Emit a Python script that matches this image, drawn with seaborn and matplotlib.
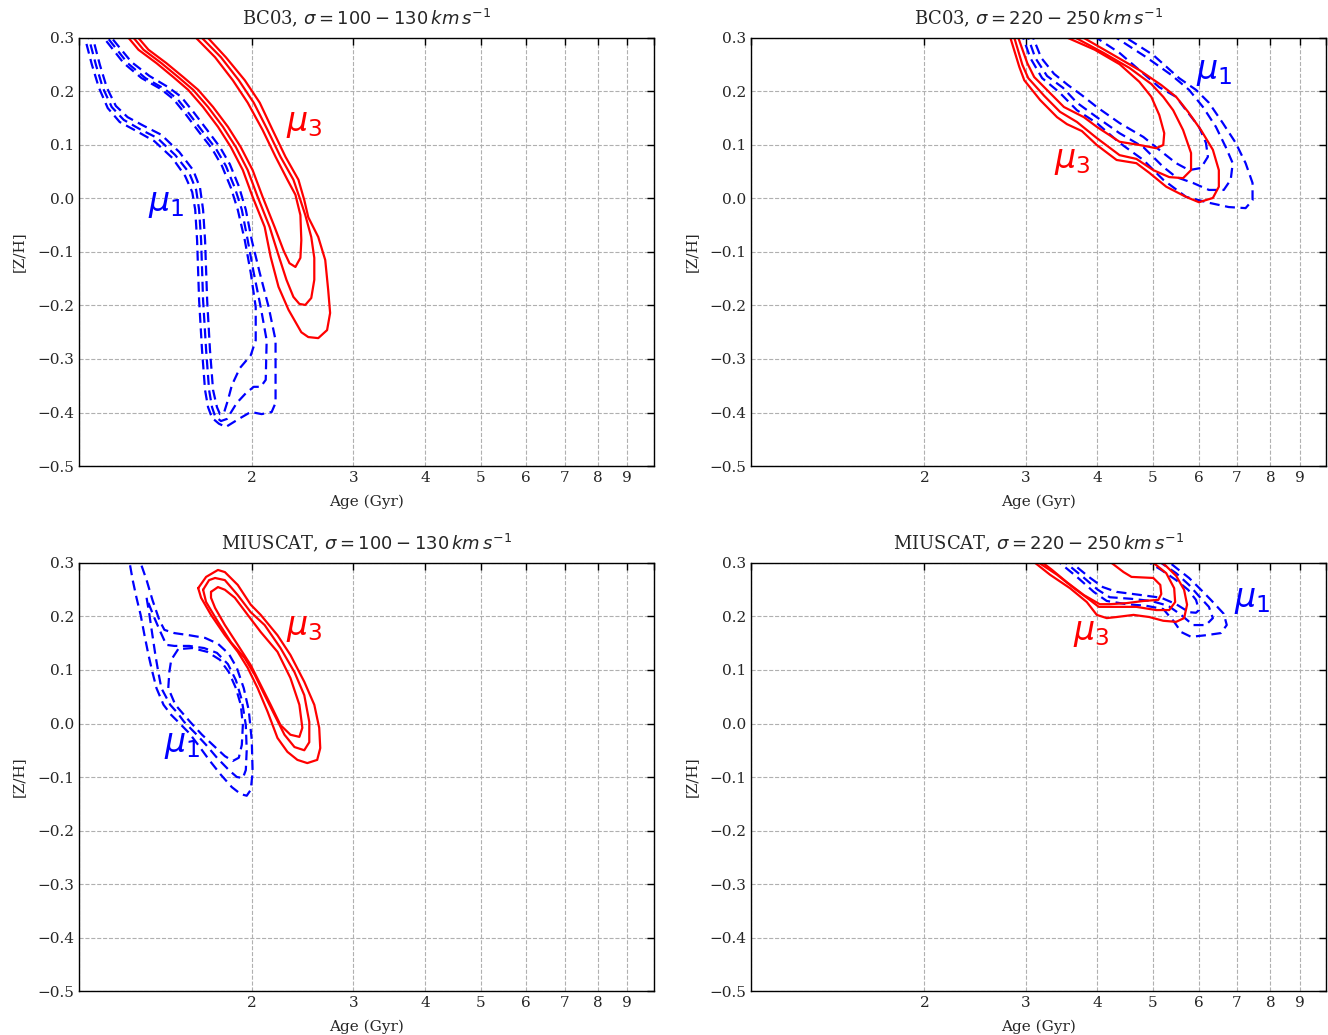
import matplotlib
matplotlib.use("Agg")
import matplotlib.pyplot as plt
import pandas as pd
import seaborn as sns
from matplotlib.ticker import NullFormatter, FuncFormatter, MultipleLocator, LogLocator

# ---------------- data (age in Gyr, [Z/H]) ----------------
panel_titles = [
    r"BC03, $\sigma = 100 - 130\,km\,s^{-1}$",
    r"BC03, $\sigma = 220 - 250\,km\,s^{-1}$",
    r"MIUSCAT, $\sigma = 100 - 130\,km\,s^{-1}$",
    r"MIUSCAT, $\sigma = 220 - 250\,km\,s^{-1}$",
]
xlabel_text = "Age (Gyr)"
ylabel_text = "[Z/H]"
mu_labels = [r"$\mu_1$", r"$\mu_3$"]

# --- BC03, sigma 100-130 ---
bc_low_mu1_outer = [(1.004, 0.315), (1.024, 0.300), (1.053, 0.250), (1.083, 0.207), (1.122, 0.169),
                    (1.177, 0.143), (1.259, 0.126), (1.353, 0.107), (1.453, 0.076), (1.530, 0.042),
                    (1.574, 0.012), (1.593, -0.021), (1.605, -0.078), (1.618, -0.190), (1.637, -0.283),
                    (1.657, -0.358), (1.677, -0.390), (1.704, -0.410), (1.752, -0.421), (1.801, -0.427),
                    (1.897, -0.412), (1.990, -0.399), (2.079, -0.403), (2.164, -0.399), (2.198, -0.382),
                    (2.198, -0.321), (2.198, -0.265), (2.138, -0.203), (2.063, -0.139), (1.998, -0.078),
                    (1.951, -0.021), (1.897, 0.023), (1.830, 0.064), (1.759, 0.096), (1.671, 0.128),
                    (1.586, 0.160), (1.506, 0.190), (1.430, 0.208), (1.326, 0.229), (1.234, 0.255),
                    (1.140, 0.300), (1.113, 0.315)]
bc_low_mu1_mid = [(1.024, 0.315), (1.040, 0.300), (1.070, 0.250), (1.100, 0.207), (1.140, 0.171),
                  (1.196, 0.147), (1.274, 0.130), (1.369, 0.113), (1.471, 0.081), (1.555, 0.048),
                  (1.599, 0.016), (1.618, -0.021), (1.631, -0.078), (1.644, -0.190), (1.664, -0.283),
                  (1.684, -0.358), (1.704, -0.390), (1.725, -0.407), (1.766, -0.416), (1.809, -0.412),
                  (1.882, -0.382), (1.951, -0.364), (2.014, -0.352), (2.071, -0.352), (2.113, -0.339),
                  (2.121, -0.265), (2.071, -0.203), (2.014, -0.139), (1.966, -0.078), (1.920, -0.021),
                  (1.867, 0.020), (1.801, 0.061), (1.731, 0.093), (1.644, 0.124), (1.561, 0.156),
                  (1.483, 0.186), (1.408, 0.205), (1.305, 0.225), (1.215, 0.253), (1.122, 0.300),
                  (1.096, 0.315)]
bc_low_mu1_inner = [(1.040, 0.315), (1.057, 0.300), (1.087, 0.250), (1.118, 0.207), (1.159, 0.173),
                    (1.215, 0.152), (1.295, 0.136), (1.391, 0.119), (1.494, 0.087), (1.580, 0.053),
                    (1.624, 0.020), (1.644, -0.021), (1.657, -0.078), (1.671, -0.190), (1.690, -0.283),
                    (1.711, -0.358), (1.738, -0.390), (1.759, -0.403), (1.787, -0.401), (1.816, -0.377),
                    (1.845, -0.349), (1.905, -0.317), (1.990, -0.293), (2.030, -0.265), (2.030, -0.203),
                    (1.990, -0.139), (1.943, -0.078), (1.889, -0.021), (1.838, 0.020), (1.773, 0.061),
                    (1.704, 0.093), (1.618, 0.124), (1.537, 0.156), (1.459, 0.186), (1.386, 0.205),
                    (1.285, 0.225), (1.196, 0.253), (1.105, 0.300), (1.079, 0.315)]
bc_low_mu3_outer = [(1.186, 0.315), (1.220, 0.300), (1.269, 0.278), (1.364, 0.253), (1.459, 0.227),
                    (1.549, 0.203), (1.644, 0.171), (1.745, 0.134), (1.838, 0.096), (1.928, 0.053),
                    (2.005, 0.003), (2.104, -0.053), (2.155, -0.109), (2.224, -0.165), (2.315, -0.208),
                    (2.437, -0.250), (2.506, -0.259), (2.608, -0.261), (2.702, -0.246), (2.735, -0.214),
                    (2.714, -0.171), (2.682, -0.115), (2.608, -0.072), (2.506, -0.035), (2.466, -0.003),
                    (2.409, 0.035), (2.287, 0.078), (2.172, 0.128), (2.063, 0.179), (1.943, 0.221),
                    (1.801, 0.264), (1.677, 0.300), (1.624, 0.315)]
bc_low_mu3_mid = [(1.210, 0.315), (1.245, 0.300), (1.295, 0.278), (1.391, 0.253), (1.488, 0.227),
                  (1.580, 0.203), (1.677, 0.171), (1.780, 0.134), (1.875, 0.096), (1.966, 0.053),
                  (2.046, 0.003), (2.146, -0.053), (2.224, -0.106), (2.296, -0.152), (2.361, -0.184),
                  (2.418, -0.197), (2.476, -0.199), (2.536, -0.186), (2.567, -0.152), (2.567, -0.111),
                  (2.536, -0.072), (2.476, -0.031), (2.428, -0.003), (2.361, 0.035), (2.242, 0.078),
                  (2.129, 0.128), (2.014, 0.179), (1.897, 0.221), (1.766, 0.264), (1.637, 0.300),
                  (1.586, 0.315)]
bc_low_mu3_inner = [(1.234, 0.315), (1.269, 0.300), (1.321, 0.278), (1.419, 0.253), (1.518, 0.227),
                    (1.612, 0.203), (1.711, 0.171), (1.816, 0.134), (1.912, 0.096), (2.005, 0.053),
                    (2.087, 0.003), (2.189, -0.053), (2.269, -0.097), (2.324, -0.121), (2.380, -0.128),
                    (2.428, -0.111), (2.437, -0.078), (2.428, -0.031), (2.380, 0.007), (2.305, 0.035),
                    (2.198, 0.078), (2.087, 0.128), (1.966, 0.179), (1.852, 0.221), (1.725, 0.264),
                    (1.599, 0.300), (1.549, 0.315)]

# --- BC03, sigma 220-250 ---
bc_high_mu1_outer = [(2.950, 0.315), (2.973, 0.300), (3.057, 0.263), (3.206, 0.225), (3.431, 0.199),
                     (3.686, 0.165), (3.991, 0.141), (4.373, 0.104), (4.810, 0.072), (5.209, 0.035),
                     (5.708, 0.003), (6.255, -0.008), (6.772, -0.016), (7.246, -0.018), (7.450, -0.003),
                     (7.450, 0.029), (7.246, 0.066), (6.963, 0.104), (6.613, 0.141), (6.255, 0.179),
                     (5.940, 0.203), (5.551, 0.225), (5.006, 0.268), (4.496, 0.300), (4.355, 0.315)]
bc_high_mu1_mid = [(3.009, 0.315), (3.033, 0.300), (3.119, 0.263), (3.270, 0.229), (3.485, 0.207),
                   (3.686, 0.179), (3.991, 0.152), (4.373, 0.122), (4.810, 0.096), (5.209, 0.059),
                   (5.485, 0.040), (5.870, 0.029), (6.255, 0.016), (6.639, 0.016), (6.826, 0.035),
                   (6.881, 0.066), (6.692, 0.096), (6.432, 0.134), (6.108, 0.171), (5.777, 0.203),
                   (5.378, 0.231), (4.868, 0.264), (4.321, 0.300), (4.186, 0.315)]
bc_high_mu1_inner = [(3.069, 0.315), (3.094, 0.300), (3.194, 0.263), (3.363, 0.233), (3.556, 0.212),
                     (3.760, 0.193), (3.991, 0.171), (4.373, 0.141), (4.810, 0.115), (5.209, 0.085),
                     (5.485, 0.066), (5.777, 0.053), (6.059, 0.057), (6.230, 0.078), (6.181, 0.104),
                     (6.011, 0.134), (5.708, 0.165), (5.485, 0.190), (5.127, 0.208), (4.734, 0.240),
                     (4.373, 0.272), (3.991, 0.300), (3.866, 0.315)]
bc_high_mu3_outer = [(2.802, 0.315), (2.824, 0.300), (2.926, 0.246), (2.985, 0.221), (3.181, 0.184),
                     (3.404, 0.152), (3.541, 0.139), (3.760, 0.126), (3.991, 0.100), (4.321, 0.072),
                     (4.678, 0.066), (4.926, 0.048), (5.272, 0.022), (5.708, 0.003), (6.011, -0.007),
                     (6.355, 0.001), (6.509, 0.022), (6.509, 0.053), (6.355, 0.091), (6.059, 0.128),
                     (5.754, 0.162), (5.485, 0.190), (5.168, 0.212), (4.734, 0.240), (4.269, 0.268),
                     (3.790, 0.300), (3.570, 0.315)]
bc_high_mu3_mid = [(2.835, 0.315), (2.869, 0.300), (2.962, 0.250), (3.033, 0.225), (3.232, 0.192),
                   (3.444, 0.162), (3.686, 0.143), (3.991, 0.113), (4.373, 0.081), (4.678, 0.074),
                   (5.006, 0.053), (5.335, 0.040), (5.640, 0.038), (5.823, 0.053), (5.823, 0.085),
                   (5.640, 0.128), (5.420, 0.165), (5.209, 0.190), (4.966, 0.214), (4.550, 0.244),
                   (4.104, 0.272), (3.671, 0.300), (3.458, 0.315)]
bc_high_mu3_inner = [(2.880, 0.315), (2.915, 0.300), (3.021, 0.253), (3.106, 0.227), (3.310, 0.197),
                     (3.499, 0.171), (3.790, 0.152), (3.991, 0.134), (4.373, 0.106), (4.734, 0.100),
                     (5.066, 0.094), (5.209, 0.100), (5.230, 0.122), (5.127, 0.156), (4.966, 0.190),
                     (4.734, 0.218), (4.373, 0.251), (3.959, 0.278), (3.556, 0.300), (3.350, 0.315)]

# --- MIUSCAT, sigma 100-130 ---
mi_low_mu1_outer = [(1.210, 0.324), (1.225, 0.300), (1.240, 0.268), (1.259, 0.235), (1.280, 0.203),
                    (1.300, 0.165), (1.321, 0.128), (1.342, 0.096), (1.364, 0.066), (1.403, 0.035),
                    (1.447, 0.016), (1.488, 0.003), (1.555, -0.018), (1.612, -0.040), (1.684, -0.068),
                    (1.766, -0.096), (1.845, -0.119), (1.912, -0.132), (1.958, -0.135), (1.990, -0.124),
                    (2.005, -0.091), (1.998, -0.031), (1.974, 0.025), (1.935, 0.066), (1.882, 0.104),
                    (1.823, 0.130), (1.745, 0.149), (1.657, 0.160), (1.555, 0.165), (1.465, 0.169),
                    (1.408, 0.175), (1.380, 0.193), (1.342, 0.231), (1.311, 0.268), (1.280, 0.300),
                    (1.269, 0.324)]
mi_low_mu1_mid = [(1.311, 0.235), (1.326, 0.203), (1.342, 0.165), (1.358, 0.128), (1.374, 0.096),
                  (1.391, 0.066), (1.441, 0.035), (1.483, 0.020), (1.524, 0.003), (1.593, -0.018),
                  (1.664, -0.040), (1.738, -0.064), (1.823, -0.087), (1.882, -0.100), (1.928, -0.102),
                  (1.951, -0.087), (1.958, -0.050), (1.951, -0.003), (1.920, 0.044), (1.875, 0.081),
                  (1.816, 0.111), (1.738, 0.132), (1.651, 0.141), (1.555, 0.145), (1.465, 0.145),
                  (1.419, 0.147), (1.386, 0.171), (1.353, 0.197), (1.321, 0.225), (1.311, 0.235)]
mi_low_mu1_inner = [(1.488, 0.139), (1.447, 0.119), (1.436, 0.096), (1.430, 0.066), (1.471, 0.035),
                    (1.518, 0.018), (1.561, 0.003), (1.637, -0.021), (1.725, -0.044), (1.794, -0.061),
                    (1.852, -0.070), (1.897, -0.064), (1.920, -0.040), (1.928, -0.003), (1.912, 0.035),
                    (1.875, 0.066), (1.823, 0.096), (1.759, 0.119), (1.671, 0.134), (1.574, 0.141),
                    (1.488, 0.139)]
mi_low_mu3_outer = [(1.612, 0.253), (1.664, 0.274), (1.745, 0.287), (1.794, 0.283), (1.889, 0.259),
                    (1.990, 0.222), (2.071, 0.203), (2.215, 0.165), (2.333, 0.128), (2.466, 0.078),
                    (2.567, 0.035), (2.618, -0.008), (2.629, -0.046), (2.597, -0.068), (2.496, -0.074),
                    (2.399, -0.068), (2.305, -0.053), (2.215, -0.027), (2.129, 0.022), (2.046, 0.066),
                    (1.966, 0.104), (1.889, 0.134), (1.794, 0.165), (1.697, 0.203), (1.631, 0.235),
                    (1.612, 0.253)]
mi_low_mu3_mid = [(1.644, 0.250), (1.684, 0.268), (1.725, 0.272), (1.794, 0.268), (1.889, 0.240),
                  (1.990, 0.208), (2.104, 0.184), (2.242, 0.141), (2.371, 0.096), (2.466, 0.053),
                  (2.516, 0.003), (2.516, -0.035), (2.466, -0.050), (2.371, -0.044), (2.278, -0.021),
                  (2.189, 0.016), (2.104, 0.053), (2.022, 0.091), (1.943, 0.122), (1.838, 0.152),
                  (1.745, 0.190), (1.664, 0.227), (1.644, 0.250)]
mi_low_mu3_inner = [(1.697, 0.246), (1.745, 0.255), (1.794, 0.250), (1.867, 0.235), (1.966, 0.203),
                    (2.071, 0.171), (2.215, 0.134), (2.333, 0.085), (2.418, 0.035), (2.447, -0.008),
                    (2.418, -0.025), (2.333, -0.021), (2.242, -0.003), (2.155, 0.035), (2.071, 0.072),
                    (1.990, 0.109), (1.889, 0.147), (1.794, 0.184), (1.725, 0.216), (1.697, 0.235),
                    (1.697, 0.246)]

# --- MIUSCAT, sigma 220-250 ---
mi_high_mu1_outer = [(3.404, 0.315), (3.444, 0.300), (3.686, 0.274), (3.943, 0.246), (4.154, 0.229),
                     (4.496, 0.223), (4.868, 0.220), (5.209, 0.214), (5.442, 0.190), (5.596, 0.171),
                     (5.823, 0.162), (6.181, 0.165), (6.561, 0.169), (6.719, 0.184), (6.639, 0.205),
                     (6.305, 0.231), (6.059, 0.250), (5.777, 0.272), (5.485, 0.291), (5.272, 0.306),
                     (5.127, 0.315)]
mi_high_mu1_mid = [(3.485, 0.315), (3.527, 0.300), (3.775, 0.274), (4.007, 0.250), (4.203, 0.236),
                   (4.587, 0.233), (4.966, 0.229), (5.314, 0.220), (5.596, 0.203), (5.870, 0.184),
                   (6.181, 0.184), (6.355, 0.197), (6.255, 0.218), (6.011, 0.238), (5.777, 0.259),
                   (5.485, 0.281), (5.168, 0.300), (5.006, 0.311)]
mi_high_mu1_inner = [(3.570, 0.315), (3.613, 0.300), (3.866, 0.274), (4.088, 0.255), (4.321, 0.246),
                     (4.772, 0.240), (5.168, 0.235), (5.485, 0.223), (5.777, 0.208), (5.940, 0.207),
                     (6.011, 0.212), (5.940, 0.231), (5.754, 0.250), (5.485, 0.268), (5.168, 0.287),
                     (4.906, 0.302), (4.772, 0.311)]
mi_high_mu3_outer = [(3.082, 0.315), (3.119, 0.300), (3.310, 0.278), (3.584, 0.253), (3.835, 0.227),
                     (3.991, 0.203), (4.154, 0.197), (4.321, 0.199), (4.624, 0.203), (4.926, 0.199),
                     (5.209, 0.192), (5.485, 0.190), (5.663, 0.197), (5.731, 0.222), (5.663, 0.250),
                     (5.485, 0.276), (5.272, 0.294), (5.107, 0.306), (5.006, 0.315)]
mi_high_mu3_mid = [(3.131, 0.315), (3.169, 0.300), (3.404, 0.278), (3.642, 0.253), (3.881, 0.231),
                   (4.023, 0.218), (4.321, 0.218), (4.678, 0.218), (5.066, 0.212), (5.335, 0.212),
                   (5.464, 0.227), (5.442, 0.253), (5.272, 0.281), (5.066, 0.296), (4.868, 0.309),
                   (4.772, 0.315)]
mi_high_mu3_inner = [(3.181, 0.315), (3.219, 0.300), (3.337, 0.287), (3.541, 0.264), (3.790, 0.240),
                     (4.039, 0.223), (4.203, 0.223), (4.496, 0.225), (4.810, 0.229), (5.107, 0.231),
                     (5.168, 0.242), (5.148, 0.259), (5.006, 0.272), (4.587, 0.274), (4.443, 0.283),
                     (4.236, 0.300), (4.154, 0.315)]

# label anchor points (age, [Z/H]) for mu_1 and mu_3 in each panel
label_mu1 = [(1.419, -0.010), (6.38, 0.236), (1.512, -0.040), (7.45, 0.231)]
label_mu3 = [(2.466, 0.139), (3.613, 0.070), (2.466, 0.178), (3.898, 0.169)]

panel_mu1 = [
    [bc_low_mu1_outer, bc_low_mu1_mid, bc_low_mu1_inner],
    [bc_high_mu1_outer, bc_high_mu1_mid, bc_high_mu1_inner],
    [mi_low_mu1_outer, mi_low_mu1_mid, mi_low_mu1_inner],
    [mi_high_mu1_outer, mi_high_mu1_mid, mi_high_mu1_inner],
]
panel_mu3 = [
    [bc_low_mu3_outer, bc_low_mu3_mid, bc_low_mu3_inner],
    [bc_high_mu3_outer, bc_high_mu3_mid, bc_high_mu3_inner],
    [mi_low_mu3_outer, mi_low_mu3_mid, mi_low_mu3_inner],
    [mi_high_mu3_outer, mi_high_mu3_mid, mi_high_mu3_inner],
]

# ---------------- plotting ----------------
sns.set_style("white")
plt.rcParams["font.family"] = ["DejaVu Serif"]
plt.rcParams["mathtext.fontset"] = "dejavusans"

fig, axes = plt.subplots(2, 2, figsize=(13.28, 10.35), dpi=100)
fig.subplots_adjust(left=0.0595, right=0.9985, bottom=0.0425, top=0.9633,
                    wspace=0.170, hspace=0.2266)

BLUE = "#0000ff"
RED = "#ff0000"


def ytick_fmt(v, pos):
    s = f"{v:.1f}"
    if s == "-0.0":
        s = "0.0"
    return s.replace("-", "\u2212")


for i, ax in enumerate(axes.flat):
    for contour in panel_mu1[i]:
        df = pd.DataFrame(contour, columns=["age", "zh"])
        sns.lineplot(data=df, x="age", y="zh", sort=False, estimator=None, ax=ax,
                     color=BLUE, lw=1.6, linestyle=(0, (4.5, 2.5)), legend=False)
    for contour in panel_mu3[i]:
        df = pd.DataFrame(contour, columns=["age", "zh"])
        sns.lineplot(data=df, x="age", y="zh", sort=False, estimator=None, ax=ax,
                     color=RED, lw=1.6, linestyle="-", legend=False)

    ax.set_xscale("log")
    ax.set_xlim(1.0, 10.0)
    ax.set_ylim(-0.5, 0.3)

    ax.xaxis.set_major_locator(LogLocator(base=10))
    ax.xaxis.set_minor_locator(LogLocator(base=10, subs=range(2, 10)))
    ax.xaxis.set_major_formatter(NullFormatter())
    ax.xaxis.set_minor_formatter(FuncFormatter(lambda v, p: f"{v:.0f}"))
    ax.yaxis.set_major_locator(MultipleLocator(0.1))
    ax.yaxis.set_major_formatter(FuncFormatter(ytick_fmt))

    ax.grid(True, which="both", axis="x", ls="--", color="#b0b0b0", lw=0.8)
    ax.grid(True, which="major", axis="y", ls="--", color="#b0b0b0", lw=0.8)
    ax.set_axisbelow(True)

    ax.tick_params(which="both", direction="in", top=True, right=True,
                   labelsize=11, length=5, width=1, color="black")
    for sp in ax.spines.values():
        sp.set_color("black")
        sp.set_linewidth(1.0)

    ax.set_xlabel(xlabel_text, fontsize=11, labelpad=7)
    ax.set_ylabel(ylabel_text, fontsize=11, labelpad=8)
    ax.set_title(panel_titles[i], fontsize=13, pad=9.5)

    ax.text(*label_mu1[i], mu_labels[0], color=BLUE, fontsize=24,
            ha="center", va="center")
    ax.text(*label_mu3[i], mu_labels[1], color=RED, fontsize=24,
            ha="center", va="center")

fig.savefig("out.png", dpi=100)
